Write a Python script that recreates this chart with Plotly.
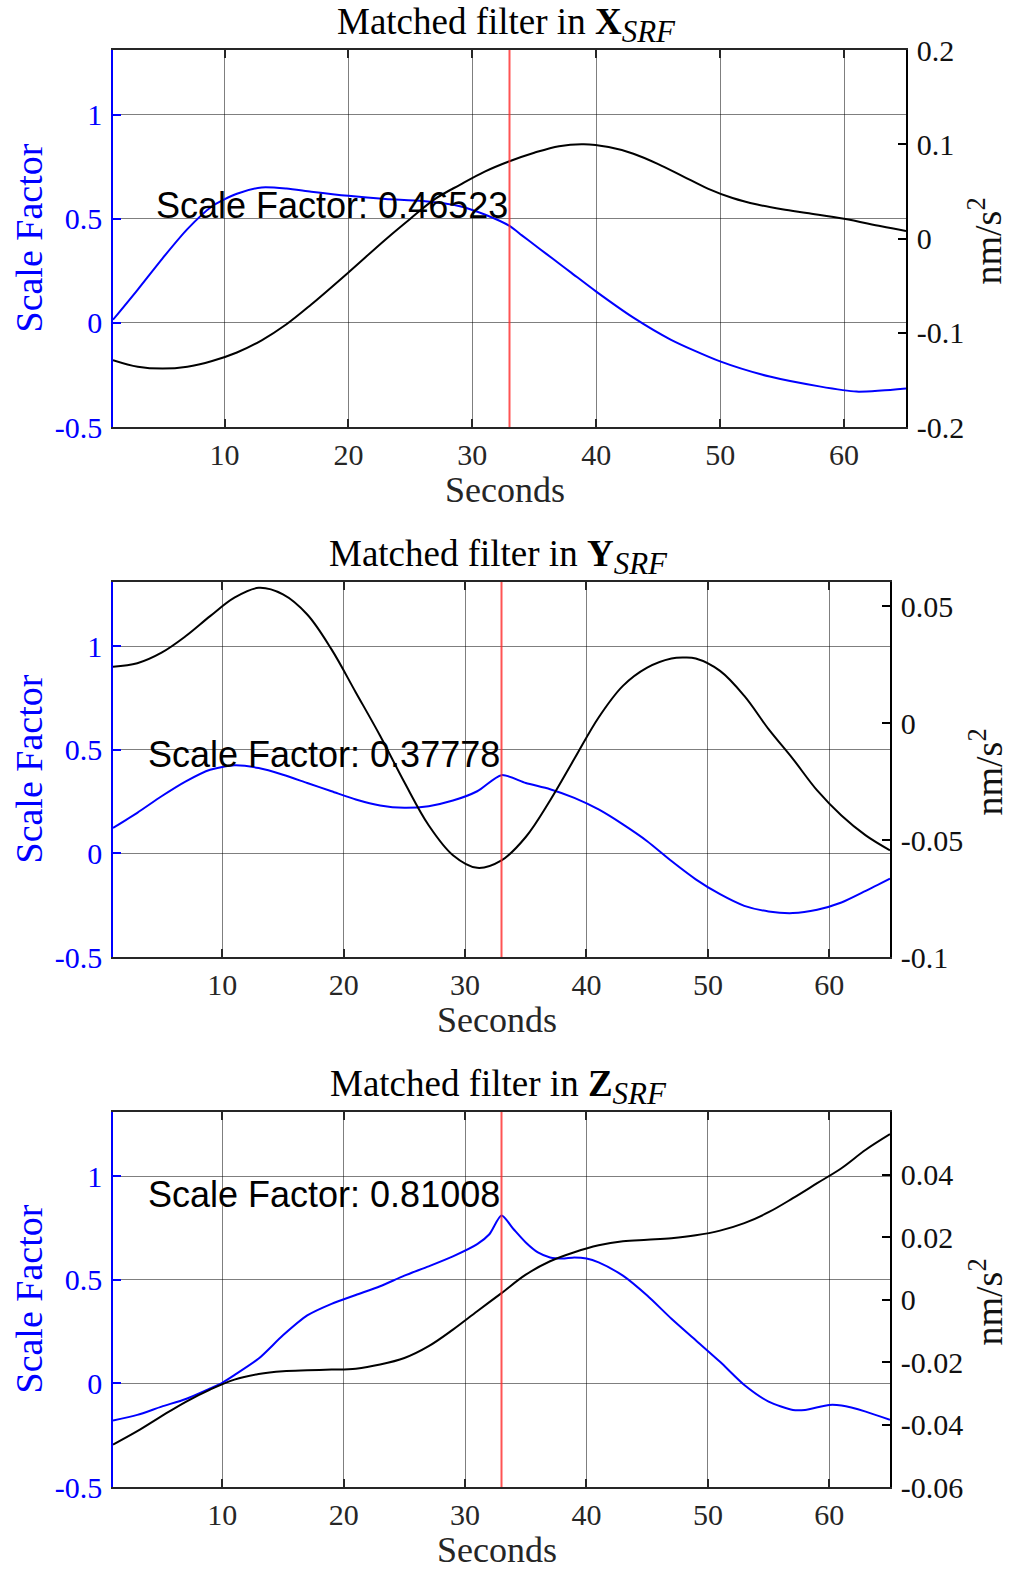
import plotly.graph_objects as go

W, H = 1013, 1571

# ---------------- data ----------------
# Panel X
x_sec_x = [1, 3, 5, 7, 9, 11, 13, 15, 17, 20, 23, 26, 29, 31, 33, 34, 35, 36, 37, 38, 40, 43, 46, 50, 54, 58,
           61, 63, 65]
scale_x = [0.015, 0.16, 0.31, 0.45, 0.56, 0.62, 0.65, 0.645, 0.63, 0.61, 0.595, 0.585, 0.56, 0.52, 0.46523,
           0.42, 0.375, 0.33, 0.285, 0.24, 0.15, 0.025, -0.08, -0.185, -0.258, -0.305, -0.33, -0.325, -0.315]
acc_sec_x = [1, 3, 5, 7, 9, 11, 13, 15, 17, 20, 23, 25, 27, 29, 31, 33, 35, 37, 39, 41, 43, 45, 47, 49, 51,
             53, 55, 57, 60, 63, 65]
acc_x = [-0.129, -0.136, -0.138, -0.136, -0.130, -0.121, -0.108, -0.091, -0.070, -0.036, -0.001, 0.021, 0.042,
         0.057, 0.071, 0.082, 0.091, 0.098, 0.100, 0.097, 0.090, 0.079, 0.066, 0.053, 0.043, 0.036, 0.031,
         0.027, 0.021, 0.013, 0.008]

# Panel Y
x_sec_y = [1, 3, 5, 7, 9, 11, 13, 15, 17, 19, 21, 23, 25, 27, 29, 31, 33, 35, 37, 39, 41, 43, 45, 47, 49,
           51, 53, 55, 57, 59, 61, 63, 65]
scale_y = [0.123, 0.196, 0.276, 0.348, 0.404, 0.425, 0.412, 0.38, 0.34, 0.30, 0.26, 0.231, 0.22, 0.228, 0.255,
           0.30, 0.37778, 0.34, 0.31, 0.268, 0.212, 0.14, 0.059, -0.037, -0.125, -0.197, -0.253, -0.28, -0.288,
           -0.272, -0.237, -0.181, -0.122]
acc_sec_y = [1, 3, 5, 7, 9, 11, 13, 15, 17, 19, 21, 23, 25, 27, 29, 31, 33, 35, 37, 39, 41, 43, 45, 47, 48,
             49, 51, 53, 55, 57, 59, 61, 63, 65]
acc_y = [0.0241, 0.0256, 0.0301, 0.0372, 0.0457, 0.0536, 0.0578, 0.055, 0.0464, 0.0315, 0.0131, -0.0054,
         -0.0253, -0.0437, -0.0565, -0.0619, -0.0587, -0.0487, -0.0331, -0.0153, 0.0024, 0.0159, 0.0237,
         0.0276, 0.028, 0.0276, 0.0223, 0.0116, -0.0026, -0.0153, -0.0288, -0.0395, -0.048, -0.0544]

# Panel Z
x_sec_z = [1, 3, 5, 7, 9, 10, 11, 13, 15, 17, 19, 21, 23, 25, 27, 29, 31, 32, 33, 34, 35, 36, 37, 38, 39, 40,
           41, 43, 45, 47, 49, 51, 53, 55, 57, 58, 60, 61, 63, 65]
scale_z = [-0.179, -0.152, -0.112, -0.075, -0.024, 0.003, 0.04, 0.12, 0.232, 0.328, 0.384, 0.427, 0.469, 0.52,
           0.565, 0.613, 0.672, 0.72, 0.81008, 0.744, 0.68, 0.632, 0.608, 0.603, 0.608, 0.603, 0.584, 0.52,
           0.424, 0.312, 0.208, 0.104, -0.008, -0.088, -0.128, -0.128, -0.104, -0.107, -0.136, -0.176]
acc_sec_z = [1, 3, 5, 7, 9, 11, 13, 15, 17, 19, 21, 23, 25, 27, 29, 31, 33, 35, 37, 39, 41, 43, 45, 47, 49,
             51, 53, 55, 57, 59, 61, 63, 65]
acc_z = [-0.0464, -0.0421, -0.0373, -0.0327, -0.0288, -0.0256, -0.0238, -0.0229, -0.0226, -0.0224, -0.0221,
         -0.0208, -0.0187, -0.0149, -0.0096, -0.0037, 0.0021, 0.008, 0.0123, 0.0152, 0.0174, 0.0187, 0.0192,
         0.0197, 0.0206, 0.0221, 0.0245, 0.028, 0.0325, 0.0373, 0.0421, 0.048, 0.053]

peak_time = 33
scale_values = [0.46523, 0.37778, 0.81008]
axis_names = ["X", "Y", "Z"]

x_ticks = [10, 20, 30, 40, 50, 60]
left_ticks = [-0.5, 0, 0.5, 1]
left_ticktext = ["-0.5", "0", "0.5", "1"]
right_ticks = [[-0.2, -0.1, 0, 0.1, 0.2],
               [-0.1, -0.05, 0, 0.05],
               [-0.06, -0.04, -0.02, 0, 0.02, 0.04]]
right_ticktext = [["-0.2", "-0.1", "0", "0.1", "0.2"],
                  ["-0.1", "-0.05", "0", "0.05"],
                  ["-0.06", "-0.04", "-0.02", "0", "0.02", "0.04"]]
right_ranges = [[-0.2, 0.2], [-0.1, 0.0603], [-0.06, 0.0601]]

# ---------------- layout geometry (pixels) ----------------
panels = [
    dict(l=113, r=906, t=50, b=427),
    dict(l=113, r=890, t=582, b=957),
    dict(l=113, r=890, t=1112, b=1487),
]

def px(x):
    return x / W

def py(y):
    return 1 - y / H

SERIF = "Liberation Serif"
SANS = "Liberation Sans"
BLUE = "#0000ff"
GRID = "rgba(0,0,0,0.5)"

series = [(x_sec_x, scale_x, acc_sec_x, acc_x),
          (x_sec_y, scale_y, acc_sec_y, acc_y),
          (x_sec_z, scale_z, acc_sec_z, acc_z)]

fig = go.Figure()
layout = dict(width=W, height=H, margin=dict(l=0, r=0, t=0, b=0, pad=0, autoexpand=False),
              paper_bgcolor="white", plot_bgcolor="white", showlegend=False)
annotations = []
shapes = []

for i, (p, (xs, sc, xa, ac)) in enumerate(zip(panels, series)):
    n = i + 1
    xa_name = "x" if n == 1 else f"x{n}"
    yl = 2 * i + 1
    yr = 2 * i + 2
    yl_name = "y" if yl == 1 else f"y{yl}"
    yr_name = f"y{yr}"
    xkey = "xaxis" if n == 1 else f"xaxis{n}"
    ylkey = "yaxis" if yl == 1 else f"yaxis{yl}"
    yrkey = f"yaxis{yr}"

    dom_x = [px(p["l"]), px(p["r"])]
    dom_y = [py(p["b"]), py(p["t"])]

    layout[xkey] = dict(domain=dom_x, anchor=yl_name, range=[1, 65], tickvals=x_ticks,
                        ticktext=[str(v) for v in x_ticks],
                        showgrid=True, gridcolor=GRID, gridwidth=1.3,
                        showline=True, linecolor="#262626", linewidth=1.5, mirror="ticks",
                        ticks="inside", ticklen=8, tickcolor="#262626", tickwidth=1.5,
                        tickfont=dict(family=SERIF, size=30, color="#262626"),
                        ticklabelstandoff=0, zeroline=False, fixedrange=True, automargin=False)
    layout[ylkey] = dict(domain=dom_y, anchor=xa_name, range=[-0.5, 1.31], tickvals=left_ticks,
                         ticktext=left_ticktext, showgrid=True, gridcolor=GRID, gridwidth=1.3,
                         showline=True, linecolor=BLUE, linewidth=1.5,
                         ticks="inside", ticklen=8, tickcolor=BLUE, tickwidth=1.5,
                         tickfont=dict(family=SERIF, size=30, color=BLUE),
                         ticklabelstandoff=3, zeroline=False, fixedrange=True, automargin=False)
    layout[yrkey] = dict(domain=dom_y, anchor=xa_name, overlaying=yl_name, side="right",
                         range=right_ranges[i], tickvals=right_ticks[i], ticktext=right_ticktext[i],
                         showgrid=False, showline=True, linecolor="black", linewidth=1.5,
                         ticks="inside", ticklen=8, tickcolor="black", tickwidth=1.5,
                         tickfont=dict(family=SERIF, size=30, color="#111111"),
                         ticklabelstandoff=3, zeroline=False, fixedrange=True, automargin=False)

    fig.add_trace(go.Scatter(x=xs, y=sc, mode="lines", xaxis=xa_name, yaxis=yl_name,
                             line=dict(color=BLUE, width=2, shape="spline", smoothing=0.7)))
    fig.add_trace(go.Scatter(x=xa, y=ac, mode="lines", xaxis=xa_name, yaxis=yr_name,
                             line=dict(color="black", width=2, shape="spline", smoothing=1.0)))

    shapes.append(dict(type="line", xref=xa_name, yref=f"{yl_name} domain", x0=peak_time, x1=peak_time,
                       y0=0, y1=1, line=dict(color="rgba(255,40,40,0.8)", width=2)))

    annotations.append(dict(xref=xa_name, yref=yl_name, x=peak_time, y=scale_values[i] + 0.1,
                            text=f"Scale Factor: {scale_values[i]:.5f}", showarrow=False,
                            xanchor="right", yanchor="middle",
                            font=dict(family=SANS, size=36, color="black")))
    cx = (p["l"] + p["r"]) / 2
    annotations.append(dict(xref="paper", yref="paper", x=px(cx - 3), y=py(p["t"] - 25),
                            text=(f"Matched filter in <b>{axis_names[i]}</b>"
                                  f"<sub><i><span style='font-size:31px'>SRF</span></i></sub>"),
                            showarrow=False, xanchor="center", yanchor="middle",
                            font=dict(family=SERIF, size=37, color="black")))
    annotations.append(dict(xref="paper", yref="paper", x=px(cx - 5), y=py(p["b"] + 63),
                            text="Seconds", showarrow=False, xanchor="center", yanchor="middle",
                            font=dict(family=SERIF, size=36, color="#262626")))
    cy = (p["t"] + p["b"]) / 2
    annotations.append(dict(xref="paper", yref="paper", x=px(28), y=py(cy),
                            text="Scale Factor", showarrow=False, textangle=-90,
                            xanchor="center", yanchor="middle",
                            font=dict(family=SERIF, size=38, color=BLUE)))
    annotations.append(dict(xref="paper", yref="paper", x=px(986), y=py(cy + 3),
                            text="nm/s<sup>2</sup>", showarrow=False, textangle=-90,
                            xanchor="center", yanchor="middle",
                            font=dict(family=SERIF, size=38, color="#111111")))

layout["annotations"] = annotations
layout["shapes"] = shapes
fig.update_layout(**layout)
fig.write_html("out.html")
